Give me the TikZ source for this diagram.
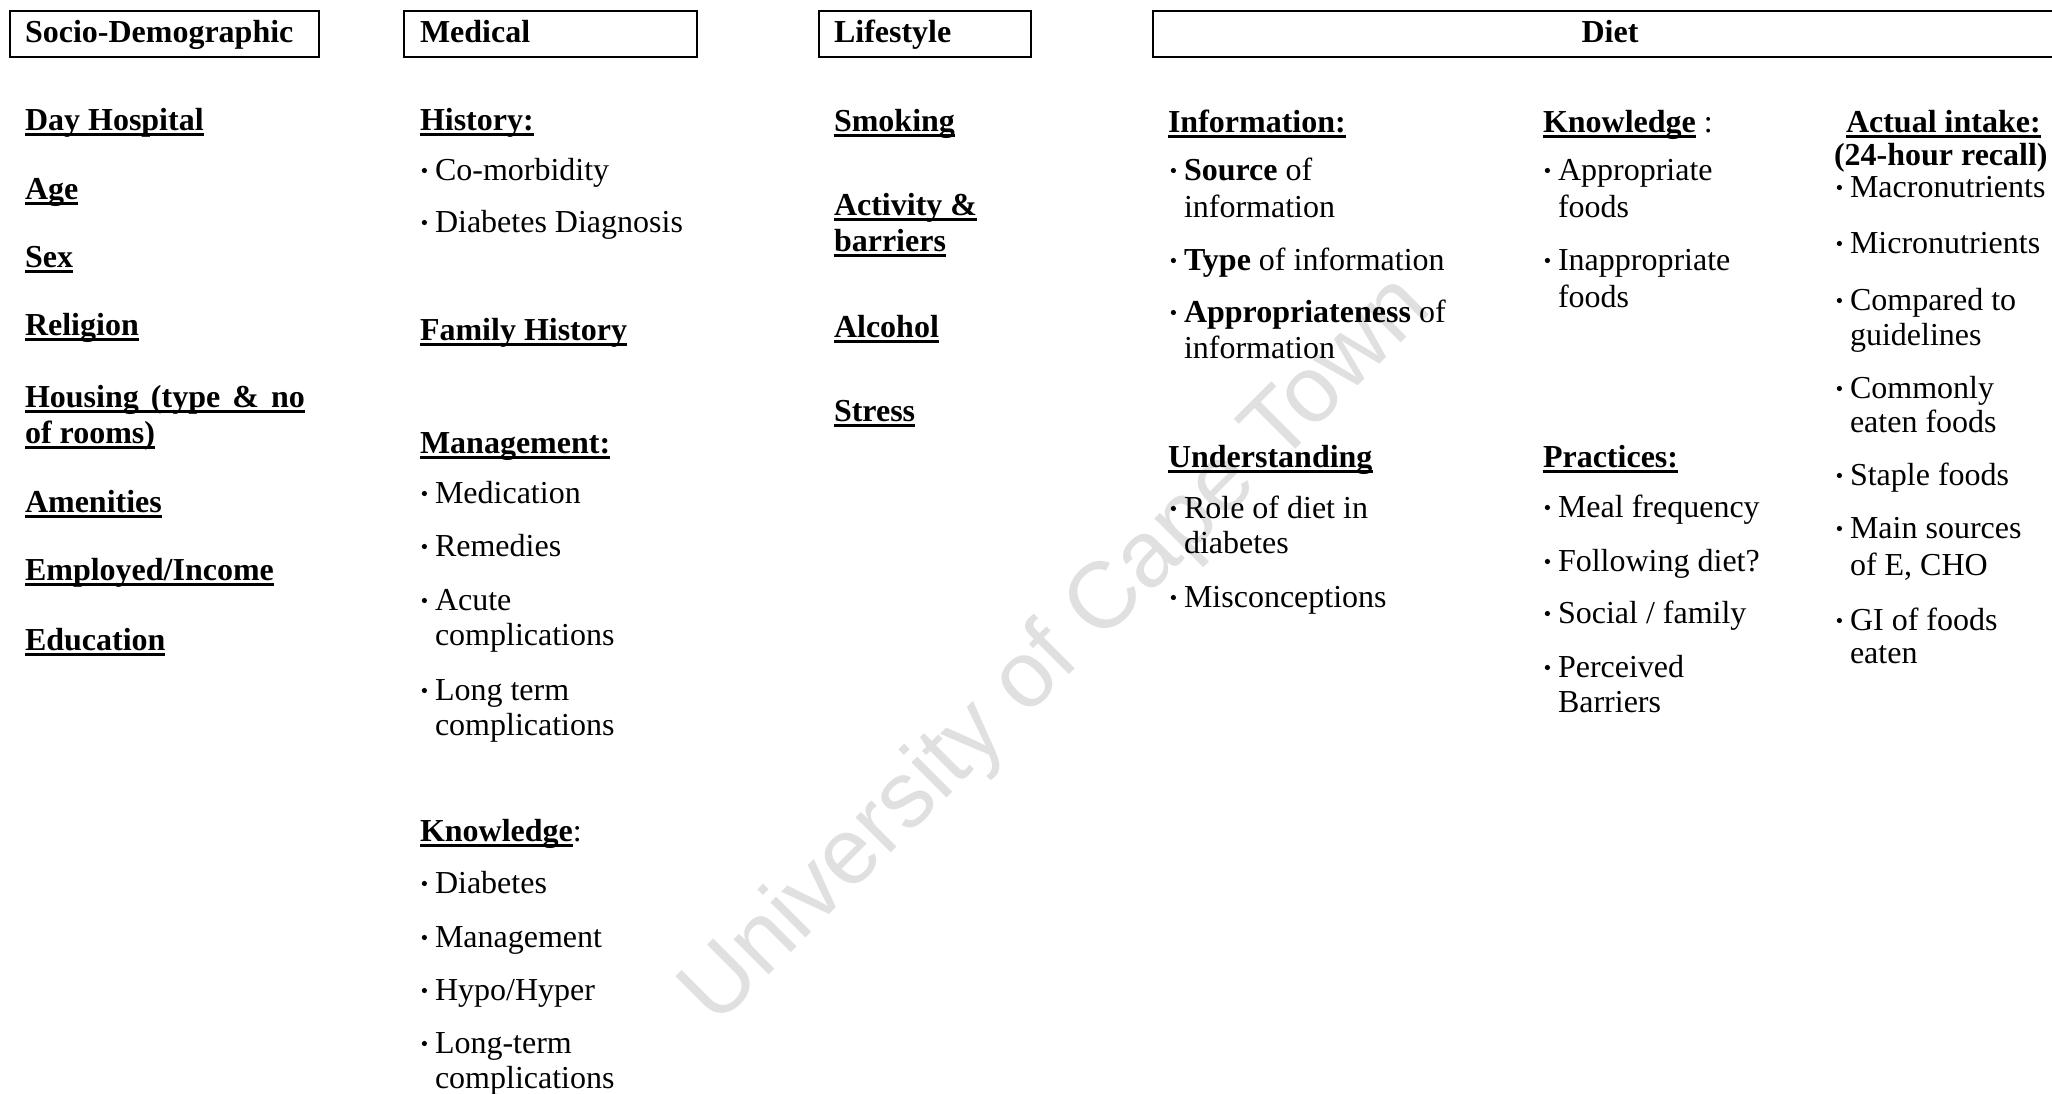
\documentclass[tikz,border=0pt]{standalone}
\usepackage{fontspec}
\setmainfont{Liberation Serif}
\newfontfamily\wmfont{Liberation Sans}
\newsavebox\ulbox
\newcommand\Ul[1]{\sbox\ulbox{#1}\rlap{\vrule height -2.7pt depth 6pt width \wd\ulbox}\usebox\ulbox}
\newcommand\Hd[1]{\Ul{\textbf{#1}}}
\newcommand\bul{\llap{\tikz[baseline=0pt]\fill (0pt,9.5pt) circle (2.6pt);\hspace{8pt}}}
\tikzset{
  txt/.style={anchor=base west, inner sep=0pt, outer sep=0pt, font=\fontsize{32}{36}\selectfont},
  ctxt/.style={anchor=base, inner sep=0pt, outer sep=0pt, font=\fontsize{32}{36}\selectfont},
  hbox/.style={draw, line width=2.3pt, anchor=north west, inner sep=0pt, outer sep=0pt, minimum height=46pt},
  wm/.style={inner sep=0pt, text=black!12, font=\wmfont\fontsize{94}{100}\selectfont}
}
\begin{document}
\begin{tikzpicture}[x=1pt,y=-1pt]
\useasboundingbox (0,0) rectangle (2052,1093);
% watermark
\node[wm, rotate=45] (wm) at (1058,652) {University of Cape Town};
% header boxes
\node[hbox, minimum width=309pt] (hb1) at (10,11) {};
\node[hbox, minimum width=293pt] (hb2) at (404,11) {};
\node[hbox, minimum width=212pt] (hb3) at (819,11) {};
\node[hbox, minimum width=914pt] (hb4) at (1153,11) {};
\node[txt] (h1) at (25,42) {\textbf{Socio-Demographic}};
\node[txt] (h2) at (420,42) {\textbf{Medical}};
\node[txt] (h3) at (834,42) {\textbf{Lifestyle}};
\node[ctxt] (h4) at (1610,42) {\textbf{Diet}};
% socio-demographic
\node[txt] (s1) at (25,130) {\Hd{Day Hospital}};
\node[txt] (s2) at (25,199) {\Hd{Age}};
\node[txt] (s3) at (25,267) {\Hd{Sex}};
\node[txt] (s4) at (25,335) {\Hd{Religion}};
\node[txt] (s5) at (25,407) {\Hd{\hbox to 280pt{Housing\hfill(type\hfill\&\hfill no}}};
\node[txt] (s5b) at (25,443) {\Hd{of rooms)}};
\node[txt] (s6) at (25,512) {\Hd{Amenities}};
\node[txt] (s7) at (25,580) {\Hd{Employed/Income}};
\node[txt] (s8) at (25,650) {\Hd{Education}};
% medical
\node[txt] (m1) at (420,130) {\Hd{History:}};
\node[txt] (m1a) at (435,180) {\bul Co-morbidity};
\node[txt] (m1b) at (435,232) {\bul Diabetes Diagnosis};
\node[txt] (m2) at (420,340) {\Hd{Family History}};
\node[txt] (m3) at (420,453) {\Hd{Management:}};
\node[txt] (m3a) at (435,503) {\bul Medication};
\node[txt] (m3b) at (435,556) {\bul Remedies};
\node[txt] (m3c) at (435,610) {\bul Acute};
\node[txt] (m3c2) at (435,645) {complications};
\node[txt] (m3d) at (435,700) {\bul Long term};
\node[txt] (m3d2) at (435,735) {complications};
\node[txt] (m4) at (420,841) {\Hd{Knowledge}:};
\node[txt] (m4a) at (435,893) {\bul Diabetes};
\node[txt] (m4b) at (435,947) {\bul Management};
\node[txt] (m4c) at (435,1000) {\bul Hypo/Hyper};
\node[txt] (m4d) at (435,1053) {\bul Long-term};
\node[txt] (m4d2) at (435,1088) {complications};
% lifestyle
\node[txt] (l1) at (834,131) {\Hd{Smoking}};
\node[txt] (l2) at (834,215) {\Hd{Activity \&}};
\node[txt] (l2b) at (834,251) {\Hd{barriers}};
\node[txt] (l3) at (834,337) {\Hd{Alcohol}};
\node[txt] (l4) at (834,421) {\Hd{Stress}};
% diet: information / understanding
\node[txt] (a1) at (1168,132) {\Hd{Information:}};
\node[txt] (a1a) at (1184,180) {\bul\textbf{Source} of};
\node[txt] (a1a2) at (1184,217) {information};
\node[txt] (a1b) at (1184,270) {\bul\textbf{Type} of information};
\node[txt] (a1c) at (1184,322) {\bul\textbf{Appropriateness} of};
\node[txt] (a1c2) at (1184,358) {information};
\node[txt] (a2) at (1168,467) {\Hd{Understanding}};
\node[txt] (a2a) at (1184,518) {\bul Role of diet in};
\node[txt] (a2a2) at (1184,553) {diabetes};
\node[txt] (a2b) at (1184,607) {\bul Misconceptions};
% diet: knowledge / practices
\node[txt] (b1) at (1543,132) {\Hd{Knowledge} :};
\node[txt] (b1a) at (1558,180) {\bul Appropriate};
\node[txt] (b1a2) at (1558,217) {foods};
\node[txt] (b1b) at (1558,270) {\bul Inappropriate};
\node[txt] (b1b2) at (1558,307) {foods};
\node[txt] (b2) at (1543,467) {\Hd{Practices:}};
\node[txt] (b2a) at (1558,517) {\bul Meal frequency};
\node[txt] (b2b) at (1558,571) {\bul Following diet?};
\node[txt] (b2c) at (1558,623) {\bul Social / family};
\node[txt] (b2d) at (1558,677) {\bul Perceived};
\node[txt] (b2d2) at (1558,712) {Barriers};
% diet: actual intake
\node[txt] (c1) at (1846,132) {\Hd{Actual intake:}};
\node[txt] (c1r) at (1834,165) {\textbf{(24-hour recall)}};
\node[txt] (c1a) at (1850,197) {\bul Macronutrients};
\node[txt] (c1b) at (1850,253) {\bul Micronutrients};
\node[txt] (c1c) at (1850,310) {\bul Compared to};
\node[txt] (c1c2) at (1850,345) {guidelines};
\node[txt] (c1d) at (1850,398) {\bul Commonly};
\node[txt] (c1d2) at (1850,432) {eaten foods};
\node[txt] (c1e) at (1850,485) {\bul Staple foods};
\node[txt] (c1f) at (1850,538) {\bul Main sources};
\node[txt] (c1f2) at (1850,575) {of E, CHO};
\node[txt] (c1g) at (1850,630) {\bul GI of foods};
\node[txt] (c1g2) at (1850,663) {eaten};
\end{tikzpicture}
\end{document}
